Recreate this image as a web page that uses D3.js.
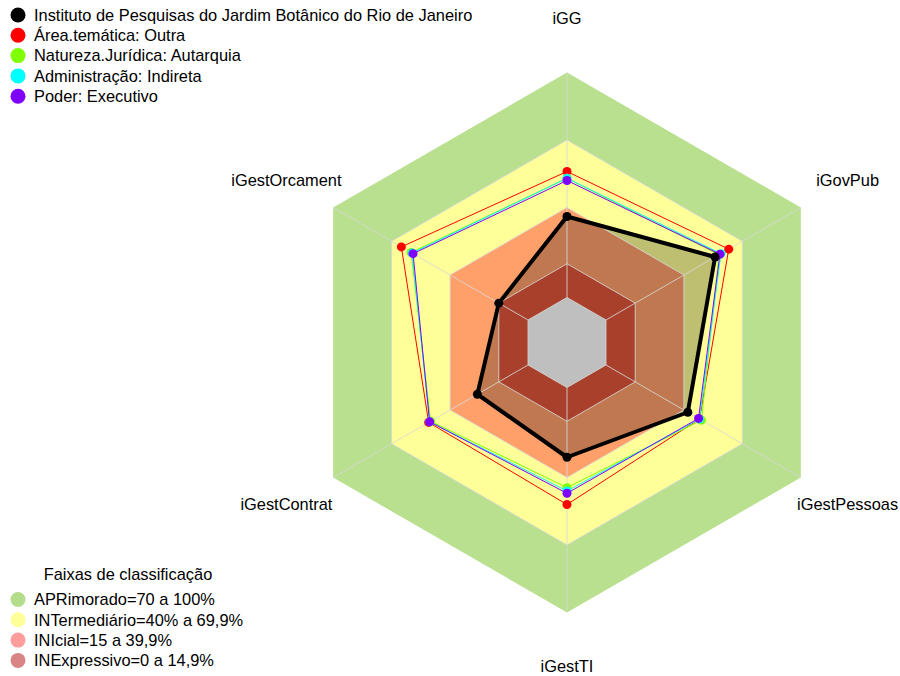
<!DOCTYPE html>
<html>
<head>
<meta charset="utf-8">
<script src="https://cdn.jsdelivr.net/npm/d3@7"></script>
<style>
  body { margin: 0; background: #fff; }
  svg { display: block; font-family: "Liberation Sans", Arial, sans-serif; }
</style>
</head>
<body>
<div id="chart"></div>
<script>
// axes, clockwise from top
var axes = ["iGG", "iGovPub", "iGestPessoas", "iGestTI", "iGestContrat", "iGestOrcament"];

var seriesNames = ["Instituto de Pesquisas do Jardim Botânico do Rio de Janeiro",
  "Área.temática: Outra", "Natureza.Jurídica: Autarquia",
  "Administração: Indireta", "Poder: Executivo"];
var seriesColors = ["#000000", "#ff0000", "#80ff00", "#00ffff", "#8000ff"];

var instituto = [36, 56, 42, 31, 26, 15];
var areaTematica = [56, 63, 48, 52, 51, 65];
var natureza = [53, 58, 49, 44.5, 50, 60];
var administracao = [53, 59, 48, 46, 50.5, 59.5];
var poder = [52, 58.5, 47.5, 47, 50.5, 59];

// classification bands
var bandNames = ["APRimorado=70 a 100%", "INTermediário=40% a 69,9%", "INIcial=15 a 39,9%", "INExpressivo=0 a 14,9%"];
var bandTops = [100, 70, 40, 15];
var bandFill = ["#b8e08e", "#ffff99", "#ffa06a", "#a8402b"];
var bandLegend = ["#b3dd8a", "#ffff99", "#ff9d9d", "#d98585"];

var W = 900, H = 676;
var cx = 567, cy = 342.5;
var fs = 16.4;

var svg = d3.select("#chart").append("svg")
  .attr("width", W).attr("height", H);

var r = d3.scaleLinear().domain([0, 100]).range([45, 270]);
var a = d3.scaleLinear().domain([0, axes.length]).range([0, 2 * Math.PI]);

var radial = d3.lineRadial()
  .angle(function(d, i){ return a(i); })
  .radius(function(d){ return r(d); })
  .curve(d3.curveLinearClosed);

var g = svg.append("g").attr("transform", "translate(" + cx + "," + cy + ")");

function ring(v){ return axes.map(function(){ return v; }); }

// bands (outer three first)
[0, 1, 2].forEach(function(i){
  g.append("path").attr("d", radial(ring(bandTops[i]))).attr("fill", bandFill[i]);
});

// shaded area of the institute
g.append("path").attr("d", radial(instituto))
  .attr("fill", "rgba(0,0,0,0.25)");

g.append("path").attr("d", radial(ring(bandTops[3]))).attr("fill", bandFill[3]);
g.append("path").attr("d", radial(ring(0))).attr("fill", "#bfbfbf");

// grid
[0, 15, 40, 70].forEach(function(v){
  g.append("path").attr("d", radial(ring(v)))
    .attr("fill", "none").attr("stroke", "rgba(215,215,215,0.85)").attr("stroke-width", 1);
});
axes.forEach(function(k, i){
  var ang = a(i);
  g.append("line")
    .attr("x1", Math.sin(ang) * r(0)).attr("y1", -Math.cos(ang) * r(0))
    .attr("x2", Math.sin(ang) * r(100)).attr("y2", -Math.cos(ang) * r(100))
    .attr("stroke", "rgba(215,215,215,0.85)").attr("stroke-width", 1);
});

// series, institute on top
var allSeries = [instituto, areaTematica, natureza, administracao, poder];
[1, 2, 3, 4, 0].forEach(function(s){
  var vals = allSeries[s];
  g.append("path").attr("d", radial(vals))
    .attr("fill", "none").attr("stroke", seriesColors[s])
    .attr("stroke-width", s === 0 ? 4 : 1).attr("stroke-linejoin", "round");
  g.selectAll(".pt" + s).data(vals).enter().append("circle")
    .attr("cx", function(d, i){ return Math.sin(a(i)) * r(d); })
    .attr("cy", function(d, i){ return -Math.cos(a(i)) * r(d); })
    .attr("r", 4.5).attr("fill", seriesColors[s]);
});

// axis labels
g.selectAll(".axlab").data(axes).enter().append("text")
  .attr("x", function(d, i){ return Math.sin(a(i)) * 324; })
  .attr("y", function(d, i){ return -Math.cos(a(i)) * 324; })
  .attr("dy", "0.35em").attr("text-anchor", "middle")
  .attr("font-size", fs).attr("fill", "#000")
  .text(function(d){ return d; });

// top legend
var leg = svg.append("g");
seriesNames.forEach(function(n, i){
  var y = 15 + i * 20.3;
  leg.append("circle").attr("cx", 18).attr("cy", y).attr("r", 7.5).attr("fill", seriesColors[i]);
  leg.append("text").attr("x", 34).attr("y", y).attr("dy", "0.35em")
    .attr("font-size", fs).text(n);
});

// band legend
var leg2 = svg.append("g");
leg2.append("text").attr("x", 128).attr("y", 574).attr("dy", "0.35em")
  .attr("text-anchor", "middle").attr("font-size", fs).text("Faixas de classificação");
bandNames.forEach(function(n, i){
  var y = 599.5 + i * 20.3;
  leg2.append("circle").attr("cx", 18).attr("cy", y).attr("r", 7.5).attr("fill", bandLegend[i]);
  leg2.append("text").attr("x", 34).attr("y", y).attr("dy", "0.35em")
    .attr("font-size", fs).text(n);
});
</script>
</body>
</html>
